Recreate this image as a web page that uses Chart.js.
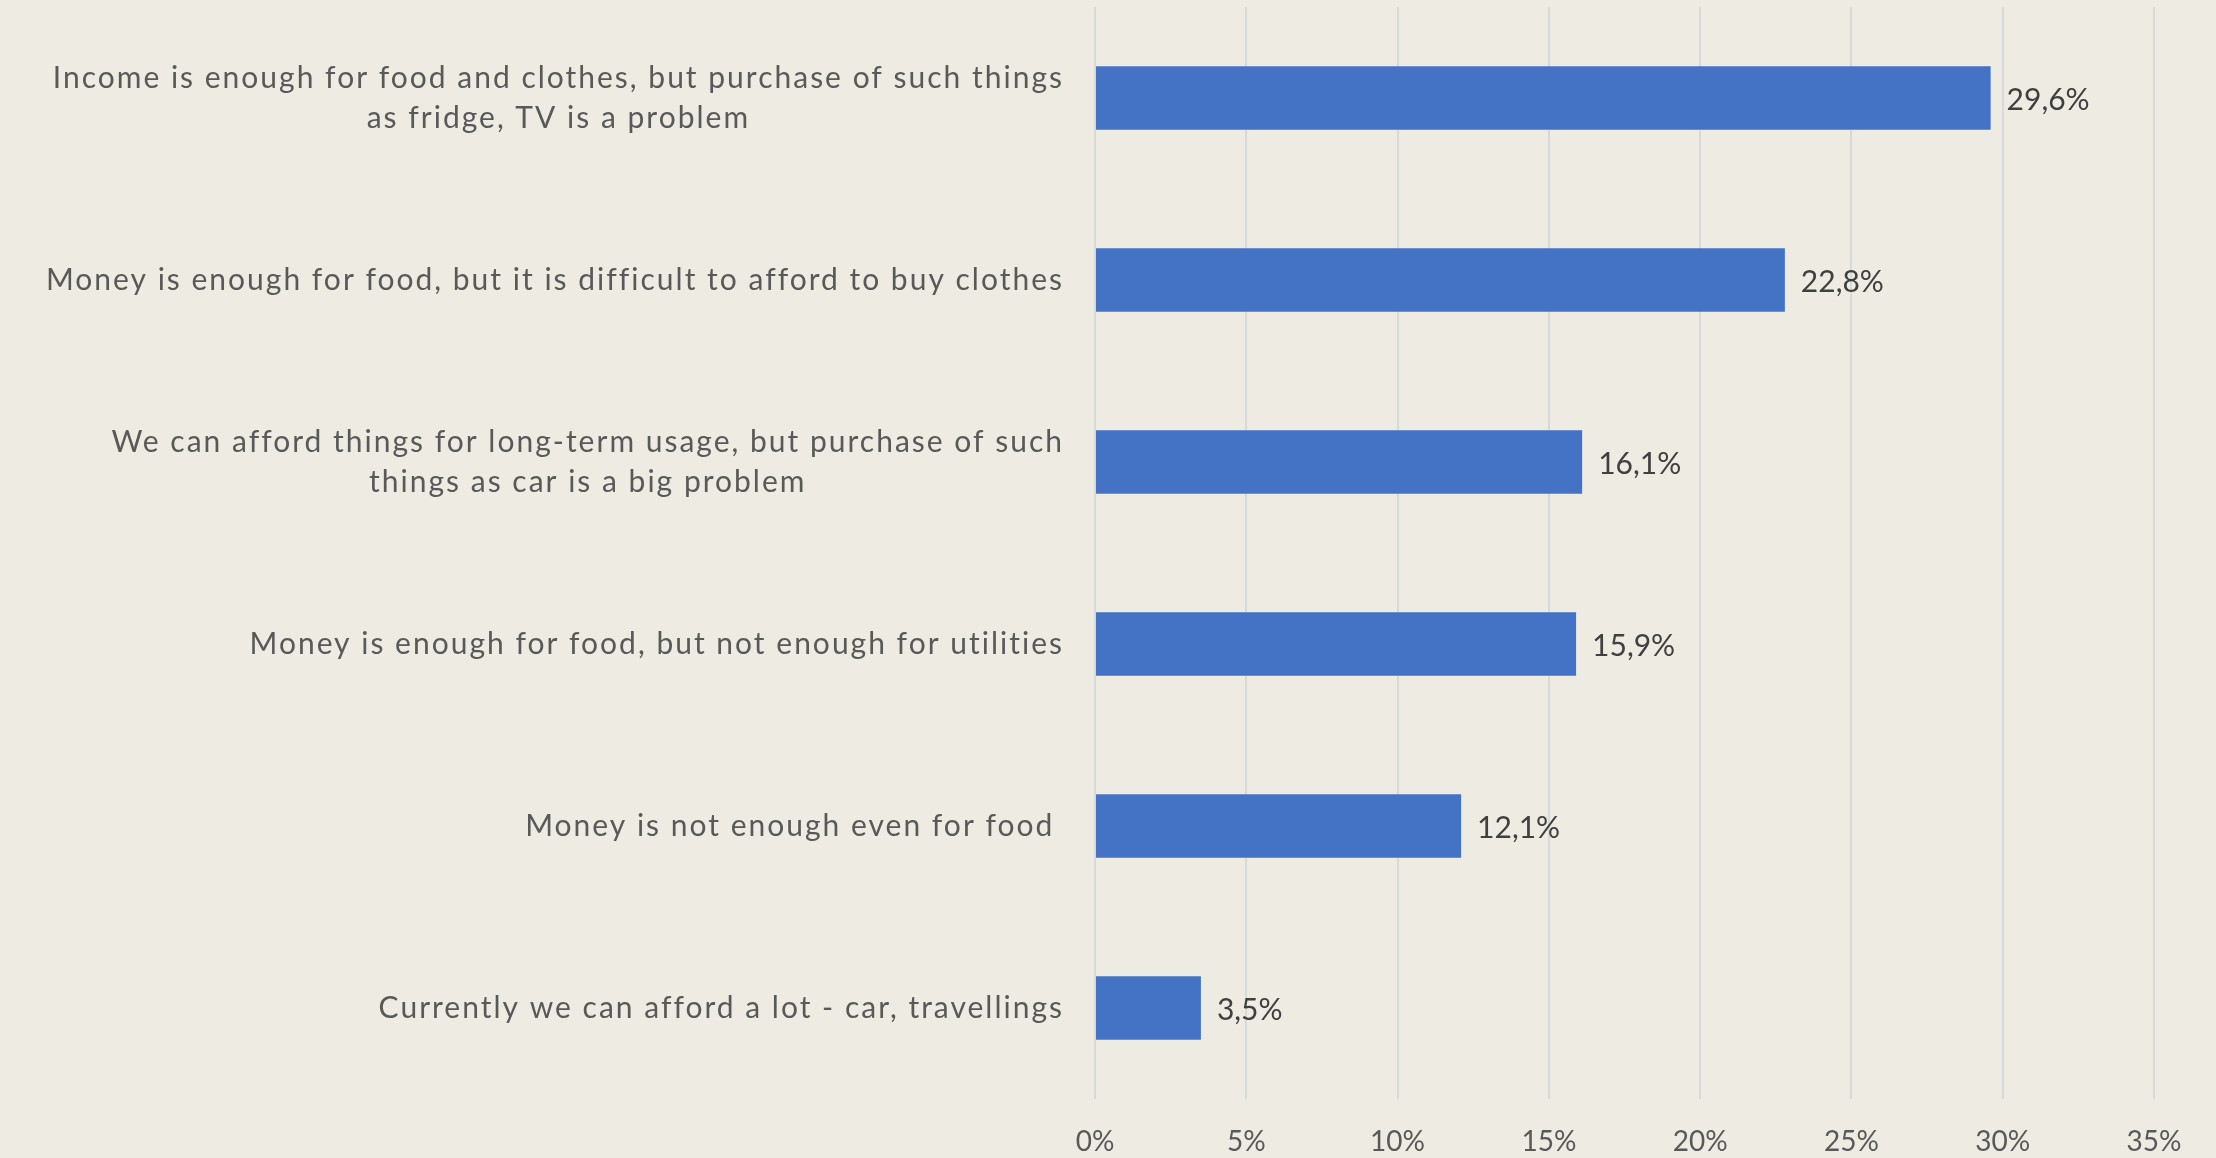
<!DOCTYPE html>
<html>
<head>
<meta charset="utf-8">
<script src="https://cdn.jsdelivr.net/npm/chart.js@4"></script>
<style>
  html, body { margin: 0; padding: 0; background: #eeebe3; }
  canvas { display: block; }
</style>
</head>
<body>
<canvas id="incomeChart" width="2216" height="1158"></canvas>
<script>
const categories = [
    ['Income is enough for food and clothes, but purchase of such things', 'as fridge, TV is a problem'],
    'Money is enough for food, but it is difficult to afford to buy clothes',
    ['We can afford things for long-term usage, but purchase of such', 'things as car is a big problem'],
    'Money is enough for food, but not enough for utilities',
    'Money is not enough even for food ',
    'Currently we can afford a lot - car, travellings'
];
const shares = [29.6, 22.8, 16.1, 15.9, 12.1, 3.5];
const axisTicks = [0, 5, 10, 15, 20, 25, 30, 35];

const FONT = 'Lato, "Open Sans", sans-serif';

const fmt = v => v.toFixed(1).replace('.', ',') + '%';

// category labels: block right-aligned to the axis, lines centred inside the block
const categoryLabels = {
    id: 'categoryLabels',
    afterDraw(chart) {
        const ctx = chart.ctx;
        const y = chart.scales.y;
        const right = chart.chartArea.left - 31;
        const lineH = 40;
        ctx.save();
        ctx.font = '30px ' + FONT;
        ctx.letterSpacing = '2px';
        ctx.fillStyle = '#595959';
        ctx.textBaseline = 'middle';
        ctx.textAlign = 'center';
        chart.data.labels.forEach((lab, i) => {
            const lines = Array.isArray(lab) ? lab : [lab];
            const w = Math.max(...lines.map(l => ctx.measureText(l).width));
            const cx = right - w / 2;
            const cy = y.getPixelForValue(i);
            lines.forEach((l, k) => {
                ctx.fillText(l, cx, cy + (k - (lines.length - 1) / 2) * lineH);
            });
        });
        ctx.restore();
    }
};

// value labels at the end of each bar
const valueLabels = {
    id: 'valueLabels',
    afterDatasetsDraw(chart) {
        const ctx = chart.ctx;
        const meta = chart.getDatasetMeta(0);
        ctx.save();
        ctx.font = '30px ' + FONT;
        ctx.fillStyle = '#404040';
        ctx.textBaseline = 'middle';
        ctx.textAlign = 'left';
        meta.data.forEach((bar, i) => {
            ctx.fillText(fmt(shares[i]), bar.x + 16, bar.y + 2);
        });
        ctx.restore();
    }
};

new Chart(document.getElementById('incomeChart'), {
    type: 'bar',
    data: {
        labels: categories,
        datasets: [{
            data: shares,
            backgroundColor: '#4472c4',
            borderWidth: 0,
            barPercentage: 0.7,
            categoryPercentage: 0.5
        }]
    },
    options: {
        indexAxis: 'y',
        responsive: false,
        animation: false,
        layout: { padding: { top: 7, right: 62, left: 0, bottom: 0 } },
        plugins: {
            legend: { display: false },
            tooltip: { enabled: false }
        },
        scales: {
            x: {
                min: 0,
                max: 35,
                afterBuildTicks(scale) {
                    scale.ticks = axisTicks.map(v => ({ value: v }));
                },
                afterFit(scale) { scale.height = 59; },
                grid: { color: '#d9d9d9', lineWidth: 2, drawTicks: false },
                border: { display: false },
                ticks: {
                    padding: 26,
                    color: '#595959',
                    font: { family: FONT, size: 28 },
                    maxRotation: 0,
                    callback: v => v + '%'
                }
            },
            y: {
                afterFit(scale) { scale.width = 1095; },
                grid: { display: false },
                border: { display: false },
                ticks: { display: false }
            }
        }
    },
    plugins: [categoryLabels, valueLabels]
});
</script>
</body>
</html>
